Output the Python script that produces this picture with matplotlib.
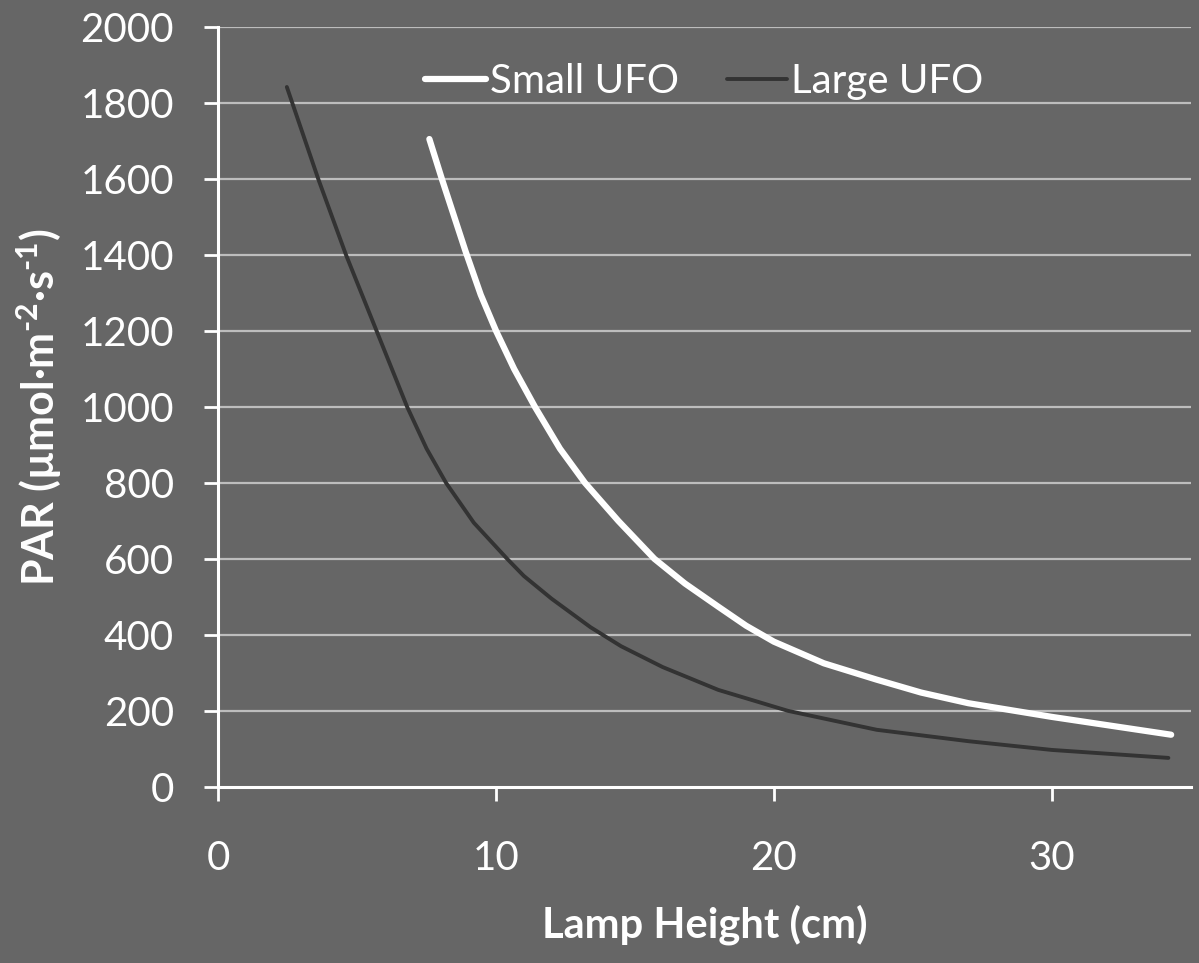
import matplotlib.pyplot as plt

# Datos
small_x = [7.6, 8.05, 8.9, 9.45, 10.0, 10.65, 11.4, 12.3, 13.2, 14.4, 15.7, 16.8, 18, 19, 20,
           21.8, 23.7, 25.3, 27, 30, 34.3]
small_y = [1705, 1600, 1410, 1295, 1200, 1100, 1000, 890, 800, 700, 600, 535, 474, 424, 382,
           325, 282, 248, 220, 184, 137]

large_x = [2.47, 3.6, 4.6, 5.7, 6.8, 7.5, 8.2, 9.2, 10.4, 11, 12, 13.4, 14.5, 16, 18, 20.5,
           23.7, 27, 30, 34.2]
large_y = [1842, 1600, 1400, 1200, 1000, 890, 800, 695, 600, 555, 495, 420, 370, 315, 255, 200,
           150, 120, 97, 76]

x_ticks = [0, 10, 20, 30]
y_ticks = list(range(0, 2001, 200))

BG = "#666666"
plt.rcParams['font.family'] = ['Lato', 'DejaVu Sans']
plt.rcParams['mathtext.fontset'] = 'custom'
plt.rcParams['mathtext.rm'] = 'Lato:bold'
plt.rcParams['mathtext.default'] = 'rm'

fig = plt.figure(figsize=(11.99, 9.63), dpi=100, facecolor=BG)
ax = fig.add_axes([0.182, 0.183, 0.811, 0.789], facecolor=BG)

# Cuadricula horizontal
for v in y_ticks[1:]:
    ax.axhline(v, color="#bdbdbd", lw=1.6, zorder=1)

ax.plot(small_x, small_y, color="white", lw=4.5, solid_capstyle="round",
        solid_joinstyle="round", label="Small UFO", zorder=3)
ax.plot(large_x, large_y, color="#333333", lw=2.8, solid_capstyle="round",
        solid_joinstyle="round", label="Large UFO", zorder=3)

ax.set_xlim(0, 35)
ax.set_ylim(0, 2000)
ax.set_xticks(x_ticks)
ax.set_yticks(y_ticks)

for s in ["top", "right"]:
    ax.spines[s].set_visible(False)
for s in ["left", "bottom"]:
    ax.spines[s].set_color("white")
    ax.spines[s].set_linewidth(2.2)

ax.tick_params(axis="x", colors="white", labelsize=29, length=10, width=2, pad=28)
ax.tick_params(axis="y", colors="white", labelsize=29, length=10, width=2, pad=22)

ax.set_xlabel("Lamp Height (cm)", color="white", fontsize=30, fontweight="bold", labelpad=20)
ax.set_ylabel(r"PAR (µmol·m$^{\text{-2}}$·s$^{\text{-1}}$)", color="white", fontsize=31,
              fontweight="bold", labelpad=12)

leg = ax.legend(loc="upper center", bbox_to_anchor=(0.5, 1.0), ncol=2, frameon=False,
                fontsize=29, handlelength=1.5, handletextpad=0.1, columnspacing=1.2)
for t in leg.get_texts():
    t.set_color("white")

fig.savefig("out.png", dpi=100, facecolor=BG)
